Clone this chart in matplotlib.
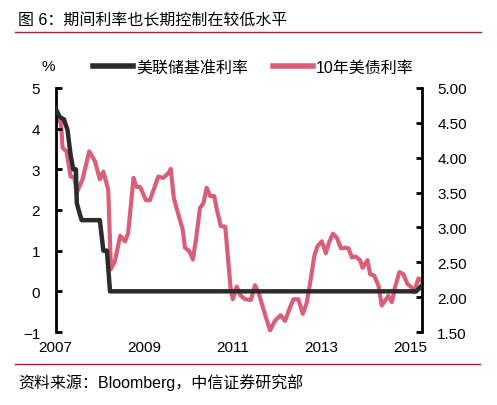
import numpy as np
import matplotlib
matplotlib.use('Agg')
import matplotlib.pyplot as plt
from matplotlib.lines import Line2D

plt.rcParams['font.family'] = ['Liberation Sans', 'Noto Sans CJK SC', 'DejaVu Sans']

# --------------------------------------------------
# 数据
# --------------------------------------------------
# 美联储基准利率（左轴, %）
fed_t = [2007.00, 2007.10, 2007.19, 2007.27, 2007.34, 2007.40, 2007.46, 2007.48,
         2007.54, 2007.59, 2008.00, 2008.08, 2008.16, 2008.23, 2015.14, 2015.27]
fed_v = [4.50, 4.28, 4.23, 3.97, 3.36, 3.00, 3.00, 2.17,
         1.93, 1.75, 1.75, 1.00, 1.00, 0.00, 0.00, 0.15]

# 10年美债利率（右轴, %）
ust_t = [2007.00, 2007.12, 2007.16, 2007.25, 2007.34, 2007.42, 2007.48, 2007.61,
         2007.76, 2007.89, 2008.00, 2008.08, 2008.19, 2008.25, 2008.34, 2008.46,
         2008.57, 2008.64, 2008.76, 2008.83, 2008.91, 2009.04, 2009.13, 2009.32,
         2009.43, 2009.55, 2009.60, 2009.67, 2009.77, 2009.87, 2009.92, 2010.02,
         2010.10, 2010.17, 2010.26, 2010.34, 2010.41, 2010.49, 2010.58, 2010.65,
         2010.73, 2010.83, 2010.90, 2010.95, 2011.00, 2011.09, 2011.18, 2011.28,
         2011.41, 2011.50, 2011.58, 2011.69, 2011.84, 2011.95, 2012.08, 2012.18,
         2012.29, 2012.37, 2012.48, 2012.58, 2012.67, 2012.76, 2012.84, 2012.91,
         2013.01, 2013.10, 2013.17, 2013.26, 2013.35, 2013.44, 2013.54, 2013.61,
         2013.69, 2013.78, 2013.87, 2013.93, 2014.04, 2014.10, 2014.19, 2014.29,
         2014.36, 2014.46, 2014.51, 2014.59, 2014.66, 2014.76, 2014.85, 2014.94,
         2015.02, 2015.09, 2015.19, 2015.27]
ust_v = [4.53, 4.52, 4.14, 4.09, 3.73, 3.72, 3.50, 3.69,
         4.09, 3.95, 3.69, 3.80, 3.54, 2.40, 2.52, 2.88,
         2.80, 2.92, 3.71, 3.58, 3.58, 3.39, 3.39, 3.73,
         3.71, 3.78, 3.84, 3.42, 3.19, 2.97, 2.71, 2.66,
         2.54, 2.83, 3.28, 3.35, 3.57, 3.45, 3.45, 3.23,
         3.02, 3.01, 2.50, 2.14, 1.97, 2.15, 2.02, 1.97,
         1.96, 2.17, 2.07, 1.83, 1.52, 1.66, 1.74, 1.66,
         1.85, 1.97, 1.97, 1.76, 1.92, 2.26, 2.59, 2.73,
         2.80, 2.63, 2.78, 2.91, 2.85, 2.70, 2.71, 2.70,
         2.57, 2.58, 2.53, 2.42, 2.53, 2.33, 2.31, 2.16,
         1.88, 1.97, 2.02, 1.93, 2.14, 2.36, 2.33, 2.19,
         2.15, 2.07, 2.27, 2.23]

year_ticks = [2007, 2009, 2011, 2013, 2015]
left_ticks = [-1, 0, 1, 2, 3, 4, 5]
right_ticks = [1.5, 2.0, 2.5, 3.0, 3.5, 4.0, 4.5, 5.0]

title = '图 6：期间利率也长期控制在较低水平'
source = '资料来源：Bloomberg，中信证券研究部'
labels = ['美联储基准利率', '10年美债利率']

c_fed = '#2b2b2b'
c_ust = '#d95f78'
c_rule = '#9b2a2e'

# --------------------------------------------------
# 绘图
# --------------------------------------------------
fig = plt.figure(figsize=(4.97, 4.06), dpi=100)
ax = fig.add_axes([0.1117, 0.1798, 0.7374, 0.6010])
ax2 = ax.twinx()

ax.plot(fed_t, fed_v, color=c_fed, lw=3.2, solid_joinstyle='round', zorder=3)
ax2.plot(ust_t, ust_v, color=c_ust, lw=3, solid_joinstyle='round', zorder=2)
ax.set_zorder(ax2.get_zorder() + 1)
ax.patch.set_visible(False)

ax.set_xlim(2007, 2015.27)
ax.set_ylim(-1, 5)
ax2.set_ylim(1.5, 5)
ax.set_xticks(year_ticks)
ax.set_xticklabels([str(y) for y in year_ticks])
ax.set_yticks(left_ticks)
ax2.set_yticks(right_ticks)
ax2.set_yticklabels([f'{v:.2f}' for v in right_ticks])

for a in (ax, ax2):
    for s in ('top', 'bottom'):
        a.spines[s].set_visible(False)
ax.spines['right'].set_visible(False)
ax2.spines['left'].set_visible(False)
ax.spines['left'].set_linewidth(2)
ax2.spines['right'].set_linewidth(2)

ax.tick_params(axis='y', direction='in', length=4, width=2, pad=11, labelsize=11)
ax2.tick_params(axis='y', direction='in', length=4, width=2, pad=11, labelsize=11)
ax.tick_params(axis='x', length=0, pad=6, labelsize=11)

# 图例
handles = [Line2D([], [], color=c_fed, lw=4), Line2D([], [], color=c_ust, lw=4)]
fig.legend(handles, labels, loc='center', bbox_to_anchor=(0.51, 0.833), ncol=2,
           frameon=False, fontsize=11.5, handlelength=2.5, handletextpad=0.2,
           columnspacing=1.5)
fig.text(0.097, 0.835, '%', fontsize=11, ha='center', va='center')

# 标题与来源
fig.text(0.036, 0.951, title, fontsize=11.5, ha='left', va='center')
fig.add_artist(Line2D([0.030, 0.968], [0.919, 0.919], color=c_rule, lw=1))
fig.add_artist(Line2D([0.030, 0.966], [0.101, 0.101], color=c_rule, lw=1))
fig.text(0.036, 0.057, source, fontsize=11.5, ha='left', va='center')

fig.savefig('out.png', dpi=100)
